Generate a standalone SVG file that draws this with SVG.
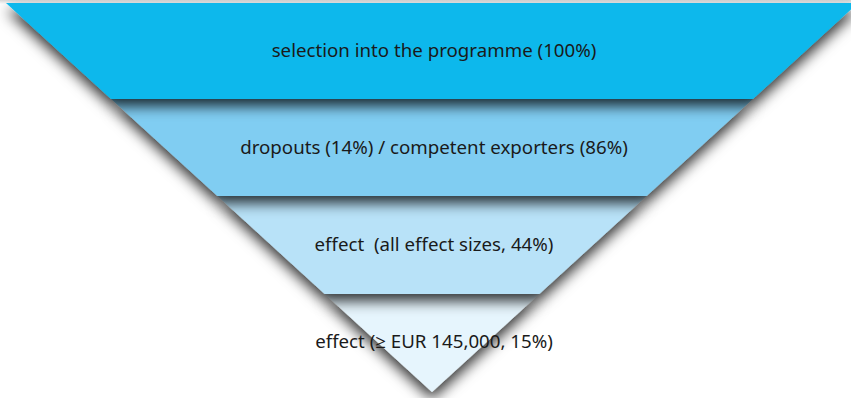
<svg xmlns="http://www.w3.org/2000/svg" width="851" height="398" viewBox="0 0 851 398">
<style>
  .lbl { font-family: "Noto Sans", "Open Sans", "DejaVu Sans", sans-serif; font-size: 18.7px; fill: #1a1a1a; text-anchor: middle; white-space: pre; }
</style>
<defs>
  <filter id="sh" x="-10%" y="-20%" width="120%" height="170%">
    <feDropShadow dx="0" dy="7" stdDeviation="7" flood-color="#000" flood-opacity="0.8"/>
  </filter>
  <linearGradient id="topfade" x1="0" y1="0" x2="0" y2="1">
    <stop offset="0" stop-color="#d8d8d8"/>
    <stop offset="1" stop-color="#ffffff"/>
  </linearGradient>
</defs>
<rect width="851" height="398" fill="#fff"/>
<rect x="0" y="0" width="851" height="4" fill="url(#topfade)"/>
<g id="band4">
  <polygon points="324.7,294 539.3,294 432,392" fill="#e6f5fd" filter="url(#sh)"/>
  <text class="lbl" x="434" y="348" xml:space="preserve">effect (≥ EUR 145,000, 15%)</text>
</g>
<g id="band3">
  <polygon points="217.4,196 646.6,196 539.3,294 324.7,294" fill="#b8e2f8" filter="url(#sh)"/>
  <text class="lbl" x="434" y="251" xml:space="preserve">effect  (all effect sizes, 44%)</text>
</g>
<g id="band2">
  <polygon points="111.1,99 752.9,99 646.6,196 217.4,196" fill="#80cdf2" filter="url(#sh)"/>
  <text class="lbl" x="434" y="154" xml:space="preserve">dropouts (14%) / competent exporters (86%)</text>
</g>
<g id="band1">
  <polygon points="6,3 858,3 752.9,99 111.1,99" fill="#08b8ec" filter="url(#sh)"/>
  <text class="lbl" x="434" y="57" xml:space="preserve">selection into the programme (100%)</text>
</g>
<g id="connectors"/>
</svg>
